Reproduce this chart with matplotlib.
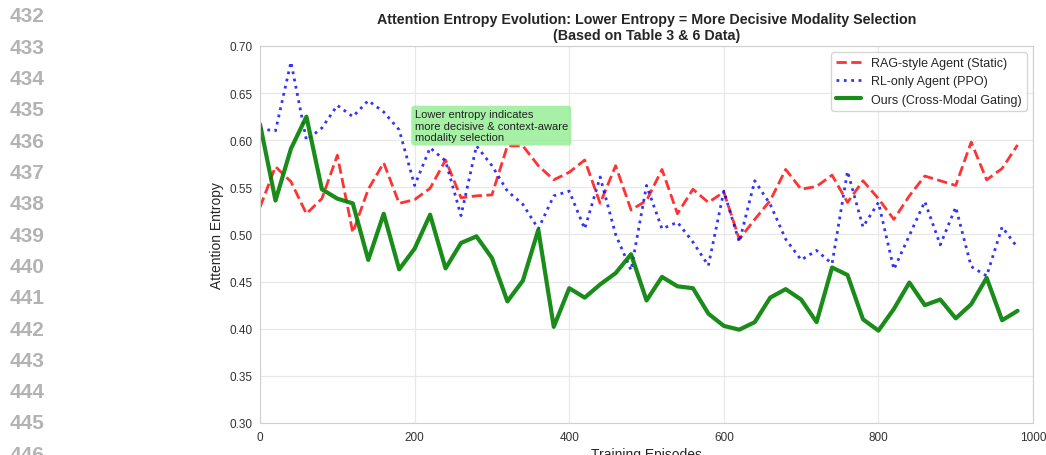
import matplotlib
matplotlib.use("Agg")
import matplotlib.pyplot as plt
import numpy as np
import seaborn as sns

sns.set_style("whitegrid")
plt.rcParams['font.family'] = ['Liberation Sans', 'DejaVu Sans']

episodes = np.arange(0, 1000, 20)

rag_static = [
    0.529, 0.572, 0.556, 0.522, 0.538, 0.584, 0.502, 0.548, 0.576, 0.533,
    0.537, 0.549, 0.579, 0.539, 0.541, 0.542, 0.594, 0.594, 0.573, 0.558,
    0.566, 0.579, 0.533, 0.573, 0.526, 0.536, 0.569, 0.522, 0.548, 0.534,
    0.545, 0.495, 0.516, 0.536, 0.569, 0.548, 0.551, 0.563, 0.534, 0.557,
    0.538, 0.516, 0.541, 0.562, 0.557, 0.552, 0.598, 0.558, 0.570, 0.595,
]
rl_ppo = [
    0.612, 0.610, 0.683, 0.600, 0.613, 0.637, 0.625, 0.642, 0.630, 0.611,
    0.552, 0.592, 0.578, 0.520, 0.594, 0.573, 0.546, 0.532, 0.506, 0.541,
    0.546, 0.506, 0.561, 0.500, 0.462, 0.552, 0.506, 0.513, 0.492, 0.467,
    0.546, 0.492, 0.557, 0.532, 0.495, 0.473, 0.483, 0.469, 0.567, 0.508,
    0.534, 0.463, 0.499, 0.535, 0.489, 0.529, 0.466, 0.456, 0.508, 0.486,
]
ours_gating = [
    0.617, 0.536, 0.591, 0.625, 0.548, 0.538, 0.533, 0.473, 0.522, 0.463,
    0.485, 0.521, 0.464, 0.491, 0.498, 0.475, 0.429, 0.451, 0.505, 0.402,
    0.443, 0.433, 0.447, 0.459, 0.479, 0.430, 0.455, 0.445, 0.443, 0.416,
    0.403, 0.399, 0.407, 0.433, 0.442, 0.431, 0.407, 0.465, 0.457, 0.410,
    0.398, 0.421, 0.449, 0.425, 0.431, 0.411, 0.426, 0.454, 0.409, 0.419,
]

line_numbers = list(range(432, 447))

fig = plt.figure(figsize=(10.46, 4.56), dpi=100)
ax = fig.add_axes([0.2486, 0.0702, 0.739, 0.8268])

ax.plot(episodes, rag_static, '--', color='red', alpha=0.8, linewidth=2,
        label='RAG-style Agent (Static)')
ax.plot(episodes, rl_ppo, ':', color='blue', alpha=0.8, linewidth=2,
        label='RL-only Agent (PPO)')
ax.plot(episodes, ours_gating, '-', color='green', alpha=0.9, linewidth=3,
        label='Ours (Cross-Modal Gating)')

ax.text(200, 0.60, "Lower entropy indicates\nmore decisive & context-aware\nmodality selection",
        fontsize=8, color='#222222',
        bbox={'boxstyle': 'round,pad=0.3', 'facecolor': 'lightgreen', 'alpha': 0.8,
              'edgecolor': 'none'})

ax.set_xlim(0, 1000)
ax.set_ylim(0.30, 0.70)
ax.set_xticks(np.arange(0, 1001, 200))
ax.set_yticks(np.arange(0.30, 0.701, 0.05))
ax.set_yticklabels([f"{v:.2f}" for v in np.arange(0.30, 0.701, 0.05)])
ax.tick_params(labelsize=8.5, colors='#333333', pad=2)
ax.grid(color='#e8e8e8', linewidth=0.9)
ax.set_xlabel("Training Episodes", fontsize=10, labelpad=3)
ax.set_ylabel("Attention Entropy", fontsize=10, labelpad=4)
ax.set_title("Attention Entropy Evolution: Lower Entropy = More Decisive Modality Selection\n"
             "(Based on Table 3 & 6 Data)", fontsize=10.3, fontweight='bold', pad=5)
ax.legend(loc='upper right', fontsize=9, frameon=True)
for spine in ax.spines.values():
    spine.set_color('#d0d0d0')

# page line numbers down the left margin
for k, num in enumerate(line_numbers):
    fig.text(10 / 1046, 1 - (17 + 31.3 * k) / 456, str(num), fontsize=15,
             fontweight='bold', color='#b3b3b3', va='center', ha='left')

fig.savefig("out.png", dpi=100)
